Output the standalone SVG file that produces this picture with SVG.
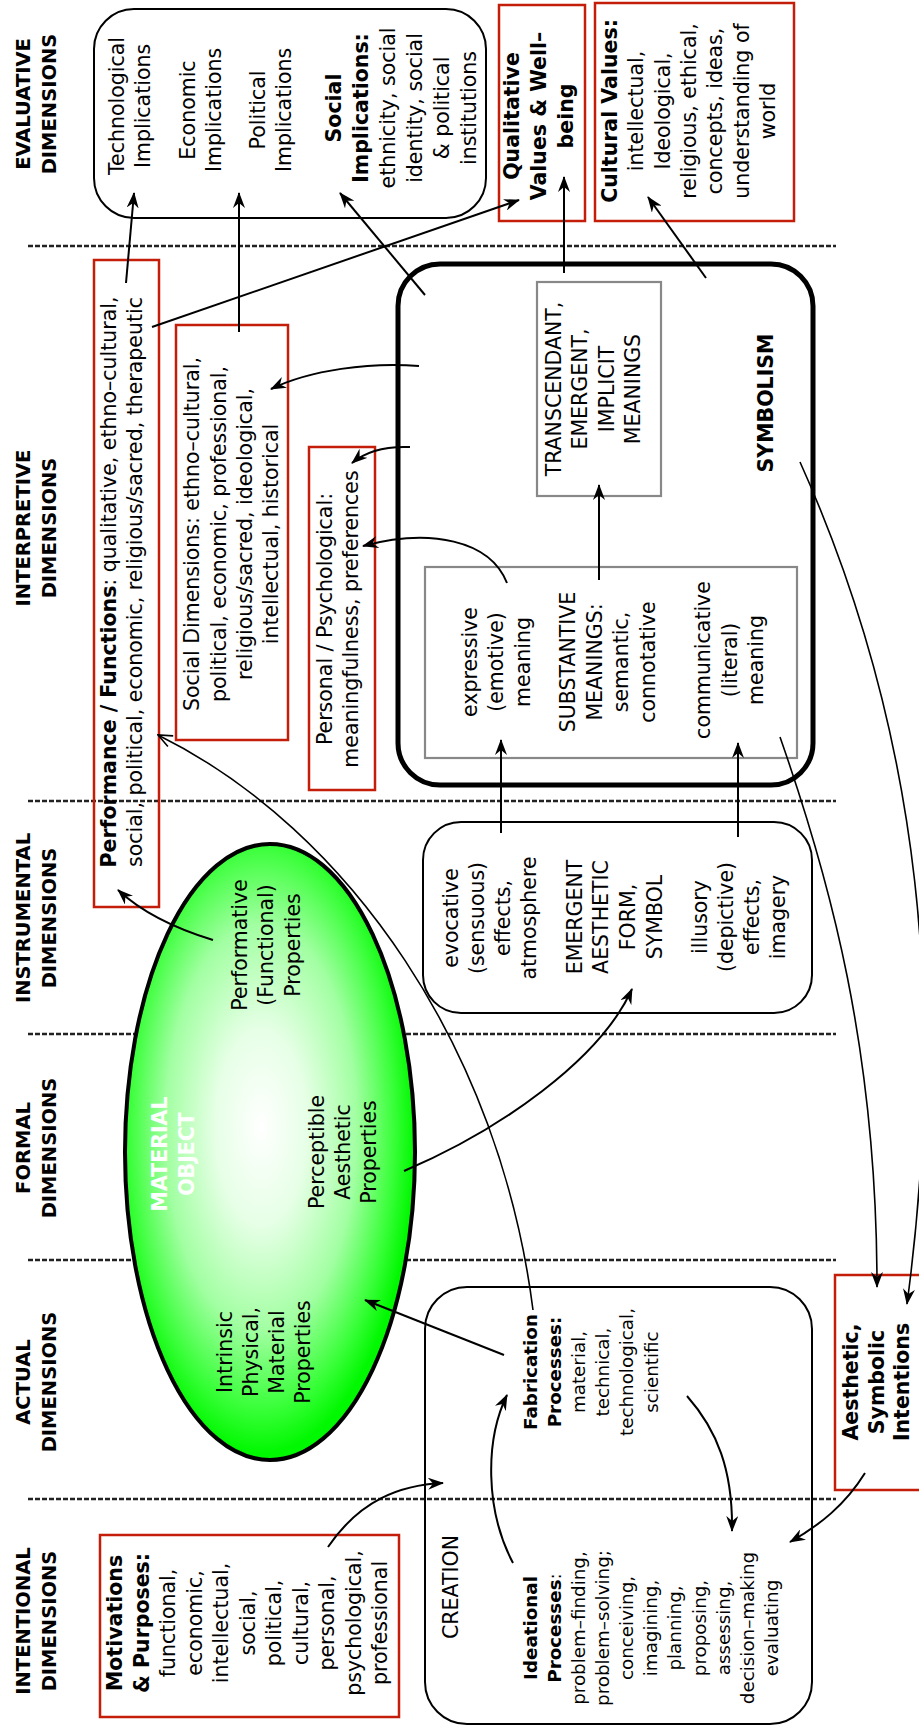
<svg xmlns="http://www.w3.org/2000/svg" width="919" height="1726" viewBox="0 0 919 1726">
<style>
text{font-family:"DejaVu Sans","Liberation Sans",sans-serif;font-size:20.5px;fill:#000;text-anchor:middle}
.b{font-weight:bold}
.lbl{font-weight:bold;font-size:19.5px}
.sm{font-size:18.3px}
.red{fill:none;stroke:#c41e0a;stroke-width:2.5}
.gray{fill:none;stroke:#888;stroke-width:2.2}
.rr{fill:none;stroke:#000;stroke-width:2}
.sep{stroke:#222;stroke-width:2.6;stroke-dasharray:5 2}
.c{fill:none;stroke:#000;stroke-width:2}
.thin{fill:none;stroke:#000;stroke-width:1.6}
</style>
<defs>
<radialGradient id="g" cx="0.47" cy="0.46" r="0.53">
<stop offset="0" stop-color="#ffffff"/>
<stop offset="0.3" stop-color="#e6ffe6"/>
<stop offset="0.62" stop-color="#a2ffa2"/>
<stop offset="0.86" stop-color="#3aff3a"/>
<stop offset="1" stop-color="#00f800"/>
</radialGradient>
<marker id="ah" viewBox="0 0 16 12" refX="15" refY="6" markerWidth="16" markerHeight="12" markerUnits="userSpaceOnUse" orient="auto">
<path d="M0,0 L16,6 L0,12 L5,6 Z" fill="#000"/>
</marker>
<marker id="ao" viewBox="0 0 16 14" refX="15" refY="7" markerWidth="16" markerHeight="14" markerUnits="userSpaceOnUse" orient="auto">
<path d="M1,1 L15,7 L1,13" fill="none" stroke="#000" stroke-width="1.6"/>
</marker>
</defs>
<rect width="919" height="1726" fill="#fff"/>

<g id="separators">
<line class="sep" x1="28" y1="246" x2="836" y2="246"/>
<line class="sep" x1="28" y1="801" x2="836" y2="801"/>
<line class="sep" x1="28" y1="1034" x2="836" y2="1034"/>
<line class="sep" x1="28" y1="1260" x2="836" y2="1260"/>
<line class="sep" x1="28" y1="1499" x2="836" y2="1499"/>
</g>

<g id="labels">
<text class="lbl" transform="translate(0,104) rotate(-90)"><tspan x="0" y="30">EVALUATIVE</tspan><tspan x="0" y="56">DIMENSIONS</tspan></text>
<text class="lbl" transform="translate(0,528) rotate(-90)"><tspan x="0" y="30">INTERPRETIVE</tspan><tspan x="0" y="56">DIMENSIONS</tspan></text>
<text class="lbl" transform="translate(0,918) rotate(-90)"><tspan x="0" y="30">INSTRUMENTAL</tspan><tspan x="0" y="56">DIMENSIONS</tspan></text>
<text class="lbl" transform="translate(0,1148) rotate(-90)"><tspan x="0" y="30">FORMAL</tspan><tspan x="0" y="56">DIMENSIONS</tspan></text>
<text class="lbl" transform="translate(0,1382) rotate(-90)"><tspan x="0" y="30">ACTUAL</tspan><tspan x="0" y="56">DIMENSIONS</tspan></text>
<text class="lbl" transform="translate(0,1621) rotate(-90)"><tspan x="0" y="30">INTENTIONAL</tspan><tspan x="0" y="56">DIMENSIONS</tspan></text>
</g>

<g id="implications">
<rect class="rr" x="94" y="9" width="392" height="209" rx="40" ry="40"/>
<text transform="translate(0,106) rotate(-90)"><tspan x="0" y="124">Technological</tspan><tspan x="0" y="150">Implications</tspan></text>
<text transform="translate(0,110) rotate(-90)"><tspan x="0" y="195">Economic</tspan><tspan x="0" y="221">Implications</tspan></text>
<text transform="translate(0,110) rotate(-90)"><tspan x="0" y="265">Political</tspan><tspan x="0" y="291">Implications</tspan></text>
<text transform="translate(0,108) rotate(-90)"><tspan x="0" y="341" class="b">Social</tspan><tspan x="0" y="368" class="b">Implications:</tspan><tspan x="0" y="395">ethnicity, social</tspan><tspan x="0" y="422">identity, social</tspan><tspan x="0" y="449">&amp; political</tspan><tspan x="0" y="476">institutions</tspan></text>
</g>

<g id="qualitative">
<rect class="red" x="499" y="5" width="86" height="216"/>
<text class="b" transform="translate(0,116) rotate(-90)"><tspan x="0" y="519">Qualitative</tspan><tspan x="0" y="546">Values &amp; Well–</tspan><tspan x="0" y="573">being</tspan></text>
</g>

<g id="cultural">
<rect class="red" x="595" y="3" width="199" height="218"/>
<text transform="translate(0,111) rotate(-90)"><tspan x="0" y="617" class="b">Cultural Values:</tspan><tspan x="0" y="643">intellectual,</tspan><tspan x="0" y="670">Ideological,</tspan><tspan x="0" y="696">religious, ethical,</tspan><tspan x="0" y="722">concepts, ideas,</tspan><tspan x="0" y="749">understanding of</tspan><tspan x="0" y="775">world</tspan></text>
</g>

<g id="performance">
<rect class="red" x="94" y="260" width="65" height="647"/>
<text transform="translate(0,582) rotate(-90)"><tspan x="0" y="116"><tspan class="b">Performance / Functions</tspan>: qualitative, ethno–cultural,</tspan><tspan x="0" y="142">social, political, economic, religious/sacred, therapeutic</tspan></text>
</g>

<g id="social-dimensions">
<rect class="red" x="176" y="325" width="112" height="415"/>
<text transform="translate(0,534) rotate(-90)"><tspan x="0" y="199">Social Dimensions: ethno–cultural,</tspan><tspan x="0" y="226">political, economic, professional,</tspan><tspan x="0" y="252">religious/sacred, ideological,</tspan><tspan x="0" y="278">intellectual, historical</tspan></text>
</g>

<g id="personal">
<rect class="red" x="309" y="447" width="66" height="343"/>
<text transform="translate(0,619) rotate(-90)"><tspan x="0" y="332">Personal / Psychological:</tspan><tspan x="0" y="358">meaningfulness, preferences</tspan></text>
</g>

<g id="symbolism">
<rect x="398" y="264" width="415" height="521" rx="42" ry="42" fill="none" stroke="#000" stroke-width="5"/>
<text class="b" transform="translate(0,403) rotate(-90)"><tspan x="0" y="773">SYMBOLISM</tspan></text>
</g>

<g id="transcendant">
<rect class="gray" x="537" y="282" width="124" height="214"/>
<text transform="translate(0,389) rotate(-90)"><tspan x="0" y="561">TRANSCENDANT,</tspan><tspan x="0" y="587">EMERGENT,</tspan><tspan x="0" y="614">IMPLICIT</tspan><tspan x="0" y="640">MEANINGS</tspan></text>
</g>

<g id="substantive">
<rect class="gray" x="425" y="567" width="372" height="191"/>
<text transform="translate(0,662) rotate(-90)"><tspan x="0" y="477">expressive</tspan><tspan x="0" y="503">(emotive)</tspan><tspan x="0" y="530">meaning</tspan></text>
<text transform="translate(0,662) rotate(-90)"><tspan x="0" y="575">SUBSTANTIVE</tspan><tspan x="0" y="602">MEANINGS:</tspan><tspan x="0" y="628">semantic,</tspan><tspan x="0" y="655">connotative</tspan></text>
<text transform="translate(0,660) rotate(-90)"><tspan x="0" y="710">communicative</tspan><tspan x="0" y="737">(literal)</tspan><tspan x="0" y="763">meaning</tspan></text>
</g>

<g id="material-object">
<ellipse cx="270" cy="1152" rx="145" ry="308" fill="url(#g)" stroke="#000" stroke-width="4"/>
<text transform="translate(0,945) rotate(-90)"><tspan x="0" y="247">Performative</tspan><tspan x="0" y="273">(Functional)</tspan><tspan x="0" y="300">Properties</tspan></text>
<text class="b" style="fill:#fff" transform="translate(0,1154) rotate(-90)"><tspan x="0" y="167">MATERIAL</tspan><tspan x="0" y="194">OBJECT</tspan></text>
<text transform="translate(0,1152) rotate(-90)"><tspan x="0" y="324">Perceptible</tspan><tspan x="0" y="350">Aesthetic</tspan><tspan x="0" y="376">Properties</tspan></text>
<text transform="translate(0,1352) rotate(-90)"><tspan x="0" y="232">Intrinsic</tspan><tspan x="0" y="258">Physical,</tspan><tspan x="0" y="284">Material</tspan><tspan x="0" y="310">Properties</tspan></text>
</g>

<g id="emergent-form">
<rect class="rr" x="423" y="822" width="389" height="191" rx="38" ry="38"/>
<text transform="translate(0,918) rotate(-90)"><tspan x="0" y="458">evocative</tspan><tspan x="0" y="484">(sensuous)</tspan><tspan x="0" y="510">effects,</tspan><tspan x="0" y="536">atmosphere</tspan></text>
<text transform="translate(0,917) rotate(-90)"><tspan x="0" y="582">EMERGENT</tspan><tspan x="0" y="608">AESTHETIC</tspan><tspan x="0" y="635">FORM,</tspan><tspan x="0" y="662">SYMBOL</tspan></text>
<text transform="translate(0,917) rotate(-90)"><tspan x="0" y="707">illusory</tspan><tspan x="0" y="733">(depictive)</tspan><tspan x="0" y="759">effects,</tspan><tspan x="0" y="785">imagery</tspan></text>
</g>

<g id="creation">
<rect class="rr" x="425" y="1287" width="387" height="437" rx="42" ry="42"/>
<text transform="translate(0,1587) rotate(-90)"><tspan x="0" y="458">CREATION</tspan></text>
<text class="sm" transform="translate(0,1372) rotate(-90)"><tspan x="0" y="537" class="b">Fabrication</tspan><tspan x="0" y="561" class="b">Processes:</tspan><tspan x="0" y="585">material,</tspan><tspan x="0" y="609">technical,</tspan><tspan x="0" y="633">technological,</tspan><tspan x="0" y="658">scientific</tspan></text>
<text class="sm" transform="translate(0,1628) rotate(-90)"><tspan x="0" y="537" class="b">Ideational</tspan><tspan x="0" y="561"><tspan class="b">Processes</tspan>:</tspan><tspan x="0" y="585">problem–finding,</tspan><tspan x="0" y="609">problem–solving;</tspan><tspan x="0" y="633">conceiving,</tspan><tspan x="0" y="657">imagining,</tspan><tspan x="0" y="681">planning,</tspan><tspan x="0" y="706">proposing,</tspan><tspan x="0" y="730">assessing,</tspan><tspan x="0" y="754">decision–making</tspan><tspan x="0" y="778">evaluating</tspan></text>
</g>

<g id="aesthetic-intentions">
<rect class="red" x="835" y="1275" width="95" height="215"/>
<text class="b" transform="translate(0,1382) rotate(-90)"><tspan x="0" y="858">Aesthetic,</tspan><tspan x="0" y="884">Symbolic</tspan><tspan x="0" y="909">Intentions</tspan></text>
</g>

<g id="motivations">
<rect class="red" x="100" y="1535" width="299" height="182"/>
<text transform="translate(0,1623) rotate(-90)"><tspan x="0" y="122" class="b">Motivations</tspan><tspan x="0" y="148.5" class="b">&amp; Purposes:</tspan><tspan x="0" y="175">functional,</tspan><tspan x="0" y="201.5">economic,</tspan><tspan x="0" y="228">intellectual,</tspan><tspan x="0" y="254.5">social,</tspan><tspan x="0" y="281">political,</tspan><tspan x="0" y="307.5">cultural,</tspan><tspan x="0" y="334">personal,</tspan><tspan x="0" y="360.5">psychological,</tspan><tspan x="0" y="387">professional</tspan></text>
</g>

<g id="connectors">
<path class="c" d="M126,283 L134,193" marker-end="url(#ah)"/>
<path class="c" d="M239,332 L239,193" marker-end="url(#ah)"/>
<path class="c" d="M425,295 L340,193" marker-end="url(#ah)"/>
<path class="c" d="M152,327 L519,200" marker-end="url(#ah)"/>
<path class="c" d="M564,273 L564,177" marker-end="url(#ah)"/>
<path class="c" d="M706,278 L648,197" marker-end="url(#ah)"/>
<path class="c" d="M419,366 C370,362 310,370 271,389" marker-end="url(#ah)"/>
<path class="c" d="M410,447 C385,446 365,452 352,463" marker-end="url(#ah)"/>
<path class="c" d="M507,583 C490,540 430,528 363,546" marker-end="url(#ah)"/>
<path class="c" d="M599,580 L599,485" marker-end="url(#ah)"/>
<path class="c" d="M501,833 L501,740" marker-end="url(#ah)"/>
<path class="c" d="M738,837 L738,743" marker-end="url(#ah)"/>
<path class="thin" d="M780,737 C830,880 877,1050 877,1287" marker-end="url(#ah)"/>
<path class="thin" d="M800,462 C925,740 945,1020 907,1304" marker-end="url(#ah)"/>
<path class="c" d="M213,940 C180,930 145,915 118,890" marker-end="url(#ah)"/>
<path class="c" d="M404,1171 C500,1130 600,1060 632,989" marker-end="url(#ah)"/>
<path class="thin" d="M533,1310 C500,1050 350,830 158,735" marker-end="url(#ao)"/>
<path class="c" d="M504,1355 L365,1300" marker-end="url(#ah)"/>
<path class="c" d="M328,1547 C360,1500 400,1485 443,1483" marker-end="url(#ah)"/>
<path class="c" d="M513,1563 C485,1510 485,1440 507,1395" marker-end="url(#ah)"/>
<path class="c" d="M687,1396 C717,1430 733,1470 732,1531" marker-end="url(#ah)"/>
<path class="c" d="M865,1473 C845,1505 820,1525 790,1542" marker-end="url(#ah)"/>
</g>
</svg>
